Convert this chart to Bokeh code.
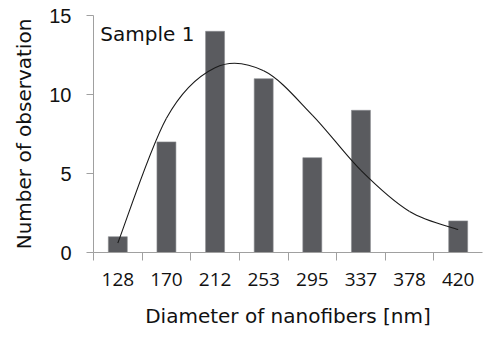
from bokeh.plotting import figure
from bokeh.models import LinearAxis, FixedTicker, Range1d, ColumnDataSource
from bokeh.embed import file_html
from bokeh.resources import INLINE
from bokeh.core.properties import value

# ---- data ----
categories = ["128", "170", "212", "253", "295", "337", "378", "420"]
counts = [1, 7, 14, 11, 6, 9, 0, 2]
fit_curve = [0.6, 8.5, 11.7, 11.5, 8.7, 5.2, 2.6, 1.45]
y_ticks = [0, 5, 10, 15]
annotation = "Sample 1"

n = len(categories)
centers = [i + 0.5 for i in range(n)]

p = figure(width=484, height=338, output_backend="svg", toolbar_location=None,
           x_range=Range1d(0, n), y_range=Range1d(0, 15),
           x_axis_location=None, y_axis_location=None,
           min_border_left=93, min_border_right=2, min_border_top=15,
           min_border_bottom=86)
p.outline_line_color = None
p.xgrid.visible = False
p.ygrid.visible = False
p.background_fill_color = "white"
p.border_fill_color = "white"

axis_gray = "#a0a0a0"

# y axis
yax = LinearAxis(ticker=FixedTicker(ticks=y_ticks))
yax.axis_line_color = axis_gray
yax.major_tick_line_color = axis_gray
yax.major_tick_out = 7
yax.major_tick_in = 0
yax.minor_tick_line_color = None
yax.major_label_text_font = "Liberation Sans"
yax.major_label_text_font_size = "20px"
yax.major_label_text_color = "#111111"
yax.major_label_standoff = 15
yax.axis_label = "Number of observation"
yax.axis_label_text_font = "DejaVu Sans"
yax.axis_label_text_font_size = "20px"
yax.axis_label_text_font_style = "normal"
yax.axis_label_text_color = "#111111"
yax.axis_label_standoff = 10
p.add_layout(yax, "left")

# x axis: tick marks between categories
xax_ticks = LinearAxis(ticker=FixedTicker(ticks=list(range(n))))
xax_ticks.major_label_overrides = {i: "" for i in range(n)}
xax_ticks.axis_line_color = axis_gray
xax_ticks.major_tick_line_color = axis_gray
xax_ticks.major_tick_out = 8
xax_ticks.major_tick_in = 0
xax_ticks.minor_tick_line_color = None
xax_ticks.major_label_text_font_size = "1px"
xax_ticks.major_label_standoff = 0
p.add_layout(xax_ticks, "below")

# x axis: category labels at centers
xax = LinearAxis(ticker=FixedTicker(ticks=centers))
xax.major_label_overrides = {c: lab for c, lab in zip(centers, categories)}
xax.axis_line_color = None
xax.major_tick_line_color = None
xax.minor_tick_line_color = None
xax.major_label_text_font = "Open Sans"
xax.major_label_text_font_size = "19px"
xax.major_label_text_color = "#111111"
xax.major_label_standoff = 6
xax.axis_label = "Diameter of nanofibers [nm]"
xax.axis_label_text_font = "DejaVu Sans"
xax.axis_label_text_font_size = "20px"
xax.axis_label_text_font_style = "normal"
xax.axis_label_text_color = "#111111"
xax.axis_label_standoff = 15
p.add_layout(xax, "below")

# bars
src = ColumnDataSource(dict(x=centers, top=counts))
p.vbar(x="x", top="top", width=0.39, bottom=0, source=src,
       fill_color="#5a5b5f", line_color="#8a8b8e", line_width=0.6)

# smooth fitted curve (Bezier segments through the curve points)
pts = list(zip(centers, fit_curve))
x0, y0, x1, y1, cx0, cy0, cx1, cy1 = [], [], [], [], [], [], [], []
for i in range(n - 1):
    pa = pts[i - 1] if i > 0 else pts[i]
    pb = pts[i]
    pc = pts[i + 1]
    pd = pts[i + 2] if i + 2 < n else pts[i + 1]
    x0.append(pb[0]); y0.append(pb[1])
    x1.append(pc[0]); y1.append(pc[1])
    cx0.append(pb[0] + (pc[0] - pa[0]) / 6); cy0.append(pb[1] + (pc[1] - pa[1]) / 6)
    cx1.append(pc[0] - (pd[0] - pb[0]) / 6); cy1.append(pc[1] - (pd[1] - pb[1]) / 6)
p.bezier(x0=x0, y0=y0, x1=x1, y1=y1, cx0=cx0, cy0=cy0, cx1=cx1, cy1=cy1,
         line_color="#1a1a1a", line_width=1.1)

# annotation
p.text(x=[0.14], y=[13.83], text=[annotation], text_font=value("DejaVu Sans"),
       text_font_size="20px", text_baseline="middle", text_align="left",
       text_color="#111111")

open("out.html", "w").write(file_html(p, INLINE))
